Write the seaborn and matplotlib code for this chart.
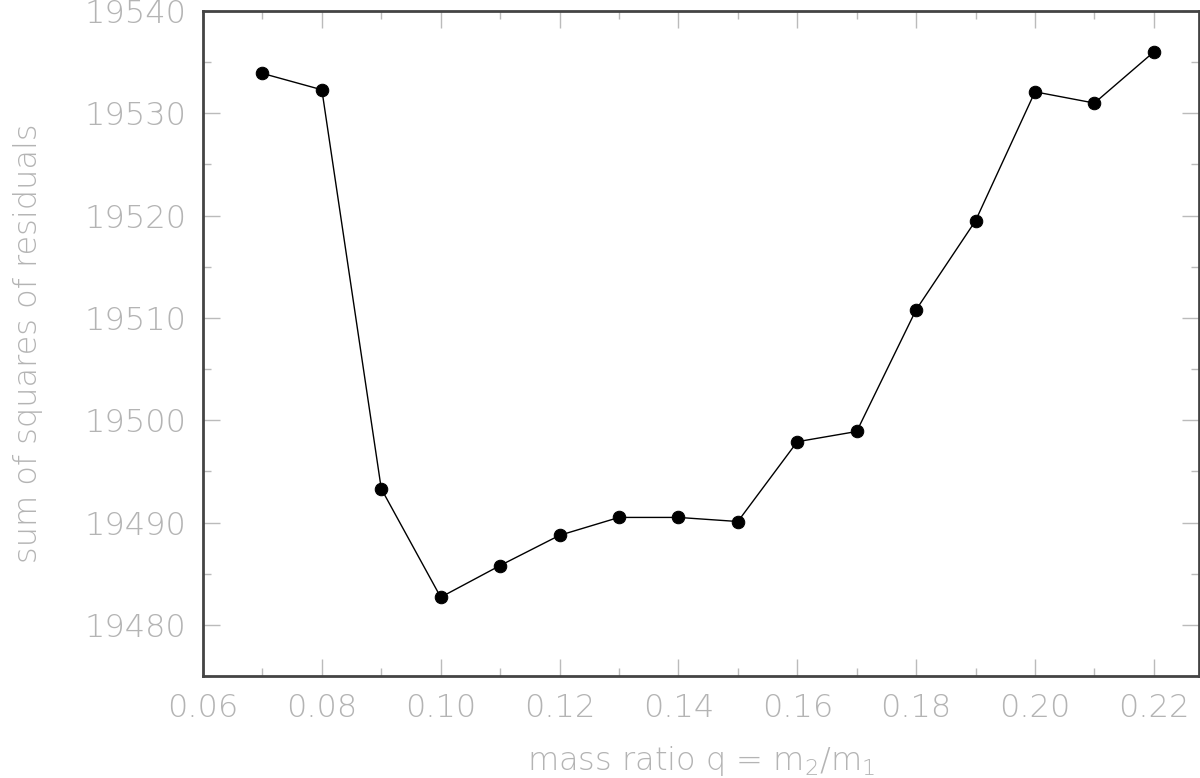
import matplotlib
matplotlib.use("Agg")
import matplotlib.pyplot as plt
from matplotlib.ticker import MultipleLocator, FormatStrFormatter
import seaborn as sns
import pandas as pd

q_values = [0.07, 0.08, 0.09, 0.10, 0.11, 0.12, 0.13, 0.14, 0.15, 0.16, 0.17, 0.18, 0.19, 0.20, 0.21, 0.22]
ssr_values = [19533.9, 19532.3, 19493.3, 19482.7, 19485.8, 19488.75, 19490.5, 19490.5, 19490.1,
              19497.9, 19498.9, 19510.8, 19519.5, 19532.1, 19531.0, 19536.0]

df = pd.DataFrame({"q": q_values, "ssr": ssr_values})

sns.set_theme(style="ticks")
plt.rcParams['font.family'] = ['DejaVu Sans']
plt.rcParams['mathtext.default'] = 'regular'

text_color = '#b4b4b4'
fig = plt.figure(figsize=(12, 7.78), dpi=100)
ax = fig.add_axes([203/1200, 1 - 676/778, (1199 - 203)/1200, (676 - 11)/778])

sns.lineplot(data=df, x="q", y="ssr", ax=ax, color='black', linewidth=1.0,
             marker='o', markersize=9, markeredgecolor='black', markerfacecolor='black')

ax.set_xlim(0.06, 0.2276)
ax.set_ylim(19475, 19540)
ax.xaxis.set_major_locator(MultipleLocator(0.02))
ax.xaxis.set_minor_locator(MultipleLocator(0.01))
ax.yaxis.set_major_locator(MultipleLocator(10))
ax.yaxis.set_minor_locator(MultipleLocator(5))
ax.xaxis.set_major_formatter(FormatStrFormatter('%.2f'))
ax.yaxis.set_major_formatter(FormatStrFormatter('%d'))

ax.tick_params(which='both', direction='in', top=True, right=True, color='#bbbbbb', width=1.0,
               labelcolor=text_color, labelsize=23)
ax.tick_params(which='major', length=12, pad=12)
ax.tick_params(which='minor', length=6)
for lbl in ax.get_xticklabels() + ax.get_yticklabels():
    lbl.set_fontweight('light')

for s in ax.spines.values():
    s.set_color('#444444')
    s.set_linewidth(2)

ax.set_xlabel("mass ratio q = m$_2$/m$_1$", fontsize=23, color=text_color, fontweight='light', labelpad=15)
ax.set_ylabel("sum of squares of residuals", fontsize=23, color=text_color, fontweight='light', labelpad=30)

fig.savefig("out.png", dpi=100)
